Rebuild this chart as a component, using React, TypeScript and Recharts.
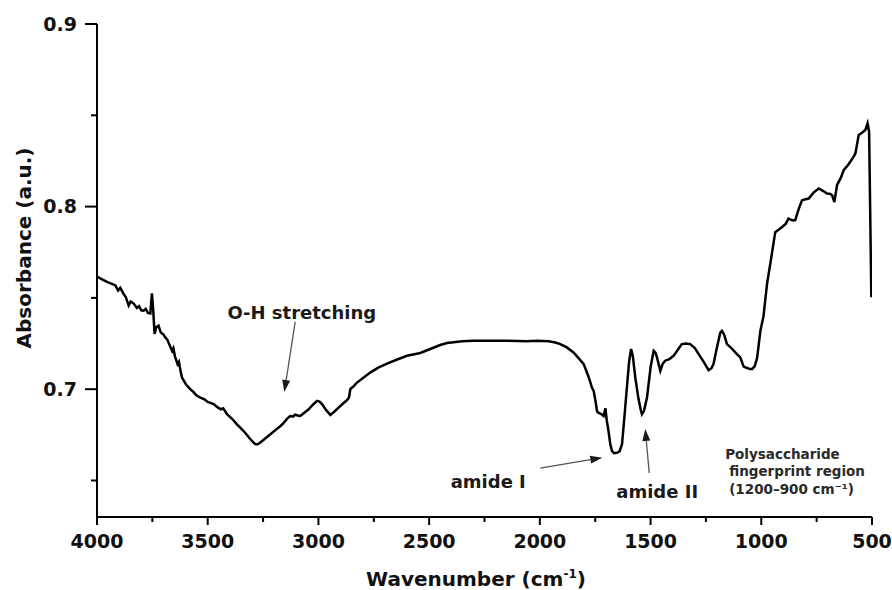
import React from 'react';
import { LineChart, Line, XAxis, YAxis, ReferenceLine, ReferenceDot } from 'recharts';

const wavenumber = [
  4000, 3975, 3950, 3930, 3917, 3905, 3895, 3880, 3870, 3857, 3848, 3835, 3820, 3810, 3800, 3790, 3780, 3770, 3759,
  3752, 3746, 3740, 3732, 3722, 3712, 3700, 3692, 3682, 3672, 3661, 3655, 3648, 3636, 3630, 3622, 3616, 3600, 3590,
  3579, 3565, 3550, 3533, 3515, 3500, 3473, 3455, 3440, 3430, 3413, 3390, 3370, 3353, 3330, 3310, 3293, 3285, 3277,
  3265, 3250, 3235, 3217, 3190, 3170, 3157, 3140, 3127, 3115, 3105, 3090, 3082, 3065, 3044, 3025, 3006, 2995, 2984,
  2965, 2946, 2930, 2909, 2890, 2871, 2862, 2856, 2845, 2826, 2800, 2766, 2730, 2690, 2650, 2600, 2540, 2495, 2450,
  2419, 2350, 2300, 2239, 2150, 2060, 2013, 1960, 1930, 1908, 1880, 1848, 1825, 1802, 1787, 1775, 1765, 1757, 1748,
  1742, 1735, 1724, 1712, 1704, 1698, 1690, 1682, 1674, 1665, 1652, 1640, 1629, 1618, 1607, 1597, 1588, 1580, 1569,
  1555, 1545, 1539, 1530, 1516, 1500, 1486, 1478, 1471, 1456, 1445, 1434, 1415, 1396, 1380, 1359, 1340, 1321, 1300,
  1283, 1260, 1238, 1225, 1216, 1200, 1185, 1178, 1168, 1155, 1135, 1110, 1095, 1080, 1072, 1055, 1042, 1030, 1019,
  1004, 990, 974, 955, 937, 925, 906, 890, 877, 860, 847, 830, 816, 800, 786, 765, 741, 720, 703, 690, 680, 670, 658,
  640, 628, 610, 598, 585, 575, 560, 545, 530, 520, 513, 503,
];

const absorbance = [
  0.7617, 0.76, 0.7585, 0.7575, 0.7568, 0.754, 0.7555, 0.7522, 0.7505, 0.7458, 0.748, 0.747, 0.7445, 0.7455, 0.7432,
  0.743, 0.744, 0.7418, 0.7415, 0.7525, 0.743, 0.7302, 0.734, 0.7348, 0.731, 0.73, 0.7284, 0.727, 0.724, 0.721,
  0.7225, 0.718, 0.7137, 0.715, 0.7095, 0.7064, 0.703, 0.7015, 0.7, 0.6985, 0.6965, 0.6954, 0.6945, 0.693, 0.6918,
  0.69, 0.689, 0.6895, 0.6863, 0.6838, 0.681, 0.6789, 0.676, 0.673, 0.6707, 0.67, 0.6698, 0.6705, 0.672, 0.6735,
  0.6753, 0.678, 0.68, 0.6816, 0.684, 0.6853, 0.685, 0.686, 0.6855, 0.6853, 0.687, 0.689, 0.6915, 0.6936, 0.6932,
  0.6918, 0.6885, 0.6859, 0.6875, 0.6899, 0.692, 0.694, 0.6955, 0.7, 0.7012, 0.7036, 0.706, 0.7091, 0.7118, 0.714,
  0.716, 0.7183, 0.7198, 0.722, 0.7242, 0.7253, 0.7262, 0.7265, 0.7265, 0.7265, 0.7263, 0.7265, 0.7262, 0.7256,
  0.7247, 0.723, 0.7201, 0.717, 0.7137, 0.709, 0.705, 0.7009, 0.6991, 0.693, 0.688, 0.687, 0.6865, 0.6853, 0.6896,
  0.683, 0.6771, 0.67, 0.6661, 0.665, 0.6652, 0.666, 0.6698, 0.685, 0.7009, 0.715, 0.722, 0.718, 0.7064, 0.695,
  0.689, 0.6863, 0.688, 0.6954, 0.712, 0.721, 0.72, 0.7174, 0.7101, 0.714, 0.7156, 0.7165, 0.7183, 0.721, 0.7247,
  0.725, 0.7247, 0.7225, 0.7192, 0.715, 0.7104, 0.7115, 0.7137, 0.723, 0.731, 0.732, 0.73, 0.7247, 0.7225, 0.7192,
  0.7174, 0.7125, 0.7119, 0.7112, 0.711, 0.7125, 0.717, 0.732, 0.74, 0.7577, 0.772, 0.786, 0.787, 0.7888, 0.7905,
  0.7934, 0.7925, 0.7925, 0.799, 0.8035, 0.804, 0.8044, 0.8075, 0.8099, 0.8085, 0.8071, 0.807, 0.8062, 0.8025,
  0.8117, 0.816, 0.8199, 0.8225, 0.8245, 0.827, 0.8291, 0.8392, 0.8405, 0.842, 0.8456, 0.841, 0.7503,
];

const xTicks = [4000, 3750, 3500, 3250, 3000, 2750, 2500, 2250, 2000, 1750, 1500, 1250, 1000, 750, 500];
const xMajorTicks = [4000, 3500, 3000, 2500, 2000, 1500, 1000, 500];
const yTicks = [0.65, 0.7, 0.75, 0.8, 0.85, 0.9];
const yMajorTicks = [0.7, 0.8, 0.9];

const data = wavenumber.map((w, i) => ({ w, a: absorbance[i] }));

const FONT = '"DejaVu Sans", Verdana, sans-serif';

function XTick(props: any) {
  const { x, y, payload } = props;
  const v = payload.value;
  const major = xMajorTicks.includes(v);
  return (
    <g>
      <line x1={x} x2={x} y1={y} y2={y + (major ? 8 : 5)} stroke="#000" strokeWidth={2} />
      {major && (
        <text x={x} y={y + 31} textAnchor="middle" fontFamily={FONT} fontWeight="bold" fontSize={19} fill="#111">
          {v}
        </text>
      )}
    </g>
  );
}

function YTick(props: any) {
  const { x, y, payload } = props;
  const v = payload.value;
  const major = yMajorTicks.some((m) => Math.abs(m - v) < 1e-6);
  return (
    <g>
      <line x1={x - (major ? 12 : 6)} x2={x} y1={y} y2={y} stroke="#000" strokeWidth={2} />
      {major && (
        <text x={x - 20} y={y + 6.5} textAnchor="end" fontFamily={FONT} fontWeight="bold" fontSize={19} fill="#111">
          {v.toFixed(1)}
        </text>
      )}
    </g>
  );
}

function ArrowShape(props: any) {
  const { x1, y1, x2, y2 } = props;
  const dx = x2 - x1;
  const dy = y2 - y1;
  const len = Math.hypot(dx, dy) || 1;
  const ux = dx / len;
  const uy = dy / len;
  const hl = 12;
  const hw = 4;
  const bx = x2 - ux * hl;
  const by = y2 - uy * hl;
  const px = -uy;
  const py = ux;
  return (
    <g>
      <line x1={x1} y1={y1} x2={bx} y2={by} stroke="#555" strokeWidth={1.3} />
      <polygon points={`${x2},${y2} ${bx + px * hw},${by + py * hw} ${bx - px * hw},${by - py * hw}`} fill="#1a1a1a" />
    </g>
  );
}

function textShape(label: string, size: number, anchor: string = 'middle') {
  return (p: any) => (
    <text x={p.cx} y={p.cy} textAnchor={anchor} fontFamily={FONT} fontWeight="bold" fontSize={size} fill="#1a1a1a">
      {label}
    </text>
  );
}

function polyShape(p: any) {
  return (
    <text x={p.cx} y={p.cy} fontFamily={FONT} fontWeight="bold" fontSize={13.5} fill="#2a2a2a">
      <tspan x={p.cx}>Polysaccharide</tspan>
      <tspan x={p.cx + 4} dy={17}>fingerprint region</tspan>
      <tspan x={p.cx + 4} dy={18}>(1200–900 cm⁻¹)</tspan>
    </text>
  );
}

export default function App() {
  return (
    <div style={{ position: 'absolute', left: 0, top: 0, width: 892, height: 590, background: '#fff' }}>
      <LineChart width={892} height={590} data={data} margin={{ top: 24, right: 20, left: 37, bottom: 33 }}>
        <XAxis
          dataKey="w"
          type="number"
          domain={[500, 4000]}
          reversed
          ticks={xTicks}
          interval={0}
          allowDataOverflow
          height={40}
          tickSize={0}
          tickMargin={0}
          tickLine={false}
          axisLine={{ stroke: '#000', strokeWidth: 2 }}
          tick={<XTick />}
          label={{
            content: () => (
              <text x={476} y={586} textAnchor="middle" fontFamily={FONT} fontWeight="bold" fontSize={20} fill="#111">
                Wavenumber (cm
                <tspan dy={-8} fontSize={12}>-1</tspan>
                <tspan dy={8}>)</tspan>
              </text>
            ),
          }}
        />
        <YAxis
          type="number"
          domain={[0.63, 0.9]}
          ticks={yTicks}
          interval={0}
          allowDataOverflow
          width={60}
          tickSize={0}
          tickMargin={0}
          tickLine={false}
          axisLine={{ stroke: '#000', strokeWidth: 2 }}
          tick={<YTick />}
          label={{
            content: () => (
              <text
                x={31}
                y={248}
                transform="rotate(-90 31 248)"
                textAnchor="middle"
                fontFamily={FONT}
                fontWeight="bold"
                fontSize={20}
                fill="#111"
              >
                Absorbance (a.u.)
              </text>
            ),
          }}
        />
        <Line
          type="linear"
          dataKey="a"
          stroke="#000"
          strokeWidth={2.5}
          dot={false}
          activeDot={false}
          isAnimationActive={false}
        />
        <ReferenceLine segment={[{ x: 3105, y: 0.7369 }, { x: 3154, y: 0.6985 }]} ifOverflow="visible" shape={ArrowShape} />
        <ReferenceLine segment={[{ x: 1998, y: 0.6568 }, { x: 1718, y: 0.6625 }]} ifOverflow="visible" shape={ArrowShape} />
        <ReferenceLine segment={[{ x: 1506, y: 0.654 }, { x: 1524, y: 0.6782 }]} ifOverflow="visible" shape={ArrowShape} />
        <ReferenceDot x={3075} y={0.7386} r={1} ifOverflow="visible" shape={textShape('O-H stretching', 18)} />
        <ReferenceDot x={2233} y={0.6458} r={1} ifOverflow="visible" shape={textShape('amide I', 18)} />
        <ReferenceDot x={1470} y={0.6403} r={1} ifOverflow="visible" shape={textShape('amide II', 18)} />
        <ReferenceDot x={1163} y={0.6617} r={1} ifOverflow="visible" shape={polyShape} />
      </LineChart>
    </div>
  );
}
